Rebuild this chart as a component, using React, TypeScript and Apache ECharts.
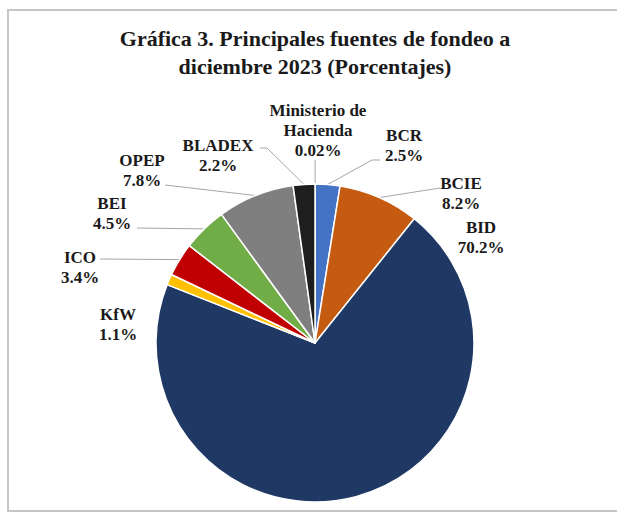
import React, { useEffect, useRef } from 'react';
import * as echarts from 'echarts';

// ---- data ----
const categories = ['Ministerio de\nHacienda', 'BCR', 'BCIE', 'BID', 'KfW', 'ICO', 'BEI', 'OPEP', 'BLADEX'];
const shares = [0.02, 2.5, 8.2, 70.2, 1.1, 3.4, 4.5, 7.8, 2.2];
const sliceColors = ['#5B9BD5', '#4472C4', '#C55A11', '#1F3864', '#FFC000', '#C00000', '#70AD47', '#7F7F7F', '#1E1E1E'];
const titleLines = ['Gráfica 3. Principales fuentes de fondeo a', 'diciembre 2023 (Porcentajes)'];

// ---- layout (positions only) ----
const CX = 315;
const CY = 343;
const R = 159;
const labelCenters: [number, number][] = [
  [318, 130], [404, 145], [461, 193], [481, 237], [118, 324], [80, 267], [112, 213], [142, 170], [218, 155],
];
// extra label-line points after the slice anchor (null = no line)
const lineTails: (number[][] | null)[] = [
  [[0, 160]], // vertical: x replaced by anchor x
  [[372, 160], [380, 160]],
  [[440, 188]],
  null,
  null,
  [[100, 259]],
  [[137, 228]],
  [[165, 185]],
  [[267, 148], [260, 148]],
];

const SERIF = '"Liberation Serif", "Times New Roman", serif';

export default function App() {
  const ref = useRef<HTMLDivElement>(null);

  useEffect(() => {
    document.body.style.margin = '0';
    document.body.style.background = '#fff';
    if (!ref.current) return;
    const chart = echarts.init(ref.current, undefined, { renderer: 'svg' });

    const total = shares.reduce((a, b) => a + b, 0);
    const anchorFallback = (i: number) => {
      let before = 0;
      for (let k = 0; k < i; k++) before += shares[k];
      const mid = before + shares[i] / 2;
      const ang = (90 - (mid / total) * 360) * (Math.PI / 180);
      return [CX + R * Math.cos(ang), CY - R * Math.sin(ang)];
    };

    const data = categories.map((name, i) => ({
      name,
      value: shares[i],
      itemStyle: { color: sliceColors[i] },
      labelLine: { show: lineTails[i] !== null },
    }));

    chart.setOption({
      animation: false,
      backgroundColor: '#ffffff',
      graphic: [
        {
          type: 'rect',
          silent: true,
          z: 0,
          shape: { x: 8, y: 10, width: 700, height: 501 },
          style: { fill: 'none', stroke: '#c6c6c6', lineWidth: 2 },
        },
        {
          type: 'text',
          silent: true,
          x: 315,
          y: 52,
          style: {
            text: titleLines.join('\n'),
            fontFamily: SERIF,
            fontWeight: 'bold',
            fontSize: 22,
            lineHeight: 28,
            fill: '#1a1a1a',
            align: 'center',
            verticalAlign: 'middle',
          },
        },
      ],
      series: [
        {
          type: 'pie',
          center: [CX, CY],
          radius: R,
          startAngle: 90,
          clockwise: true,
          avoidLabelOverlap: false,
          itemStyle: { borderColor: '#ffffff', borderWidth: 1.5 },
          label: {
            show: true,
            position: 'outside',
            formatter: (p: any) => `${p.name}\n${p.value}%`,
            fontFamily: SERIF,
            fontWeight: 'bold',
            fontSize: 17,
            lineHeight: 20,
            color: '#1a1a1a',
            align: 'center',
          },
          labelLine: {
            show: true,
            lineStyle: { color: '#a6a6a6', width: 1 },
          },
          labelLayout: (p: any) => {
            const i = p.dataIndex;
            const [x, y] = labelCenters[i];
            const res: any = { x, y, align: 'center', verticalAlign: 'middle' };
            const tail = lineTails[i];
            if (tail) {
              const start =
                p.labelLinePoints && p.labelLinePoints[0] ? p.labelLinePoints[0] : anchorFallback(i);
              const pts = tail.map((pt, k) => (i === 0 && k === 0 ? [start[0], pt[1]] : pt));
              res.labelLinePoints = [start, ...pts];
            }
            return res;
          },
          data,
        },
      ],
    });

    return () => chart.dispose();
  }, []);

  return (
    <div
      ref={ref}
      style={{ position: 'fixed', left: 0, top: 0, width: 617, height: 514, background: '#fff' }}
    />
  );
}
